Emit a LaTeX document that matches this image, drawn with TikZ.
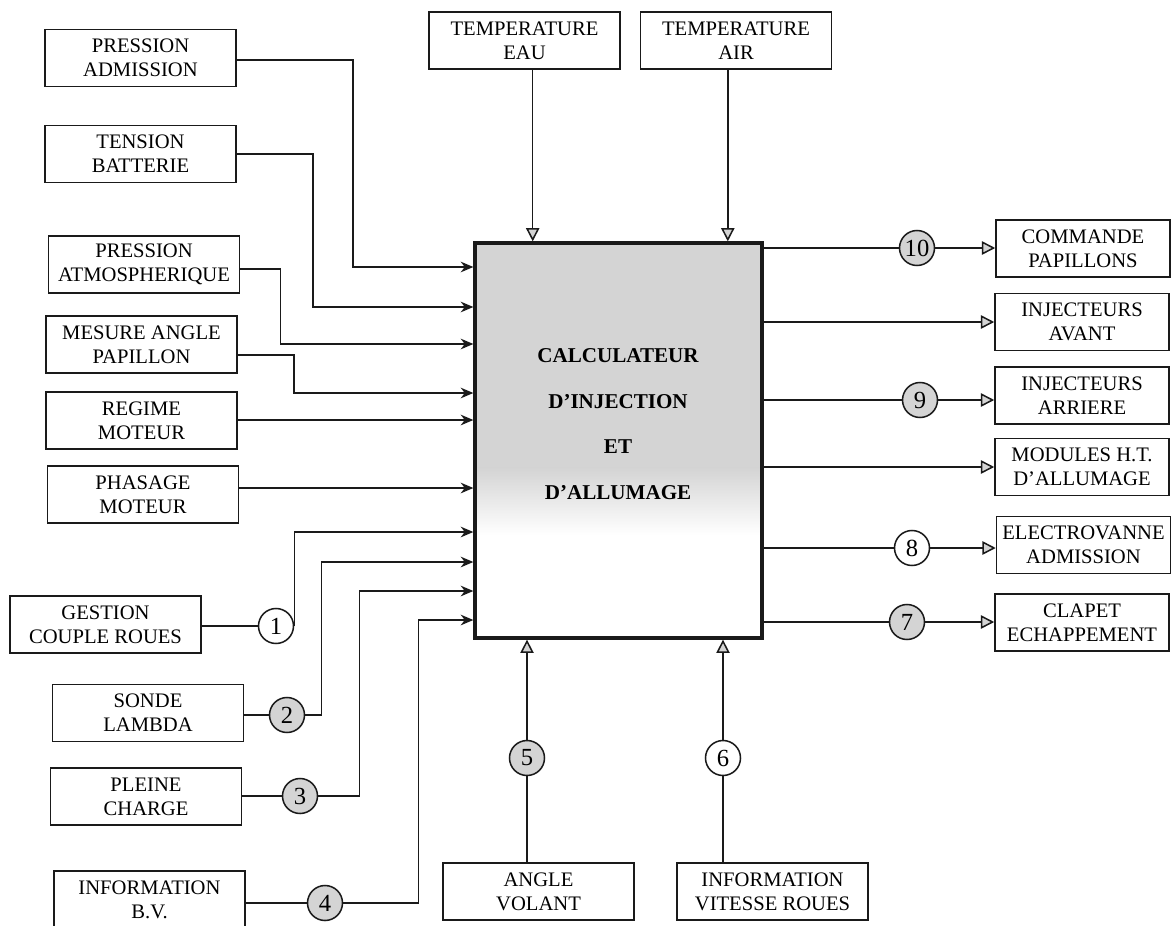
\documentclass[tikz,border=0pt]{standalone}
\usepackage{fontspec}
\setmainfont{Liberation Serif}
\usetikzlibrary{arrows.meta,positioning,calc}
\definecolor{ink}{HTML}{1A1A1A}
\definecolor{dots}{HTML}{D4D4D4}
\tikzset{
  inbox/.style={
    draw=ink,
    line width=1.3pt,
    minimum width=5.73cm,
    minimum height=1.71cm,
    inner sep=0pt,
    align=center,
    font=\fontsize{17.6}{20.5}\selectfont
  },
  outbox/.style={inbox,minimum width=5.22cm},
  ecubox/.style={
    draw=ink,
    line width=2.8pt,
    minimum width=8.61cm,
    minimum height=11.85cm,
    path picture={
      \fill[dots] (path picture bounding box.north west) rectangle ($(path picture bounding box.north east)+(0,226)$);
      \shade[top color=dots,bottom color=white] ($(path picture bounding box.north west)+(0,225)$) rectangle ($(path picture bounding box.north east)+(0,292)$);
    }
  },
  ecutext/.style={align=center,font=\bfseries\fontsize{18}{39}\selectfont},
  numc/.style={circle,draw=ink,line width=1.3pt,minimum size=1.05cm,inner sep=0pt,fill=white,font=\fontsize{21}{21}\selectfont},
  numcs/.style={numc,fill=dots},
  wire/.style={draw=ink,line width=1.3pt},
  inarrow/.style={wire,-{Stealth[length=3.8mm,width=3.2mm]}},
  outarrow/.style={wire,-{Triangle[length=4mm,width=4mm,fill=dots]}}
}
\begin{document}
\begin{tikzpicture}[x=0.03cm,y=-0.03cm]
\useasboundingbox (0,0) rectangle (1174,926);
\node[ecubox] (ecu) at (618.5,440.5) {};
\node[ecutext] (calc) at (618,424) {CALCULATEUR\\D’INJECTION\\ET\\D’ALLUMAGE};
\node[inbox] (padm) at (140.5,58) {PRESSION\\ADMISSION};
\node[inbox] (tbat) at (140.5,154) {TENSION\\BATTERIE};
\node[inbox] (patm) at (144,264.5) {PRESSION\\ATMOSPHERIQUE};
\node[inbox] (mang) at (141.5,344.5) {MESURE ANGLE\\PAPILLON};
\node[inbox] (regm) at (141.5,420.5) {REGIME\\MOTEUR};
\node[inbox] (phas) at (143,494.5) {PHASAGE\\MOTEUR};
\node[inbox] (gcr) at (105.5,624.5) {GESTION\\COUPLE ROUES};
\node[inbox] (lam) at (148,713) {SONDE\\LAMBDA};
\node[inbox] (plc) at (146,796.5) {PLEINE\\CHARGE};
\node[inbox] (ibv) at (149.5,899.5) {INFORMATION\\B.V.};
\node[inbox] (teau) at (524.5,40.5) {TEMPERATURE\\EAU};
\node[inbox] (tair) at (736,40.5) {TEMPERATURE\\AIR};
\node[inbox] (angv) at (538.5,891.5) {ANGLE\\VOLANT};
\node[inbox] (ivr) at (772.5,891.5) {INFORMATION\\VITESSE ROUES};
\node[outbox] (cmd) at (1083,248.5) {COMMANDE\\PAPILLONS};
\node[outbox] (iav) at (1082,322) {INJECTEURS\\AVANT};
\node[outbox] (iar) at (1082,395.5) {INJECTEURS\\ARRIERE};
\node[outbox] (mht) at (1082,467) {MODULES H.T.\\D’ALLUMAGE};
\node[outbox] (elv) at (1083.5,545) {ELECTROVANNE\\ADMISSION};
\node[outbox] (clp) at (1082,622.5) {CLAPET\\ECHAPPEMENT};
\node[numc] (c1) at (276,626) {1};
\node[numcs] (c2) at (287,715) {2};
\node[numcs] (c3) at (300,796) {3};
\node[numcs] (c4) at (325,903) {4};
\node[numcs] (c5) at (527,758) {5};
\node[numc] (c6) at (723,758) {6};
\node[numcs] (c7) at (907,622) {7};
\node[numc] (c8) at (912,548) {8};
\node[numcs] (c9) at (920,400) {9};
\node[numcs] (c10) at (917,248) {10};
\foreach \k/\h in {1/267,2/307,3/344,4/393,5/420,6/488,7/532,8/562,9/591,10/620}
  \coordinate (in\k) at (ecu.west |- 0,\h);
\draw[inarrow] ([yshift=-1.5pt]padm.east) -- ++(116,0) |- (in1);
\draw[inarrow] (tbat.east) -- ++(76,0) |- (in2);
\draw[inarrow] ([yshift=-4pt]patm.east) -- ++(40,0) |- (in3);
\draw[inarrow] ([yshift=-9pt]mang.east) -- ++(56,0) |- (in4);
\draw[inarrow] (regm.east |- in5) -- (in5);
\draw[inarrow] (phas.east |- in6) -- (in6);
\draw[wire] (gcr.east |- c1) -- (c1);
\draw[inarrow] (c1.east) |- (in7);
\draw[wire] (lam.east |- c2) -- (c2);
\draw[inarrow] (c2.east) -- ++(16,0) |- (in8);
\draw[wire] (plc.east |- c3) -- (c3);
\draw[inarrow] (c3.east) -- ++(41,0) |- (in9);
\draw[wire] (ibv.east |- c4) -- (c4);
\draw[inarrow] (c4.east) -- ++(75,0) |- (in10);
\draw[outarrow] ([xshift=7pt]teau.south) -- ([xshift=7pt]teau.south |- ecu.north);
\draw[outarrow] ([xshift=-7pt]tair.south) -- ([xshift=-7pt]tair.south |- ecu.north);
\draw[wire] (c5 |- angv.north) -- (c5);
\draw[outarrow] (c5) -- (c5 |- ecu.south);
\draw[wire] (c6 |- ivr.north) -- (c6);
\draw[outarrow] (c6) -- (c6 |- ecu.south);
\draw[wire] (ecu.east |- c10) -- (c10);
\draw[outarrow] (c10) -- (cmd.west |- c10);
\draw[outarrow] (ecu.east |- iav) -- (iav.west);
\draw[wire] (ecu.east |- c9) -- (c9);
\draw[outarrow] (c9) -- (iar.west |- c9);
\draw[outarrow] (ecu.east |- mht) -- (mht.west);
\draw[wire] (ecu.east |- c8) -- (c8);
\draw[outarrow] (c8) -- (elv.west |- c8);
\draw[wire] (ecu.east |- c7) -- (c7);
\draw[outarrow] (c7) -- (clp.west |- c7);
\end{tikzpicture}
\end{document}
